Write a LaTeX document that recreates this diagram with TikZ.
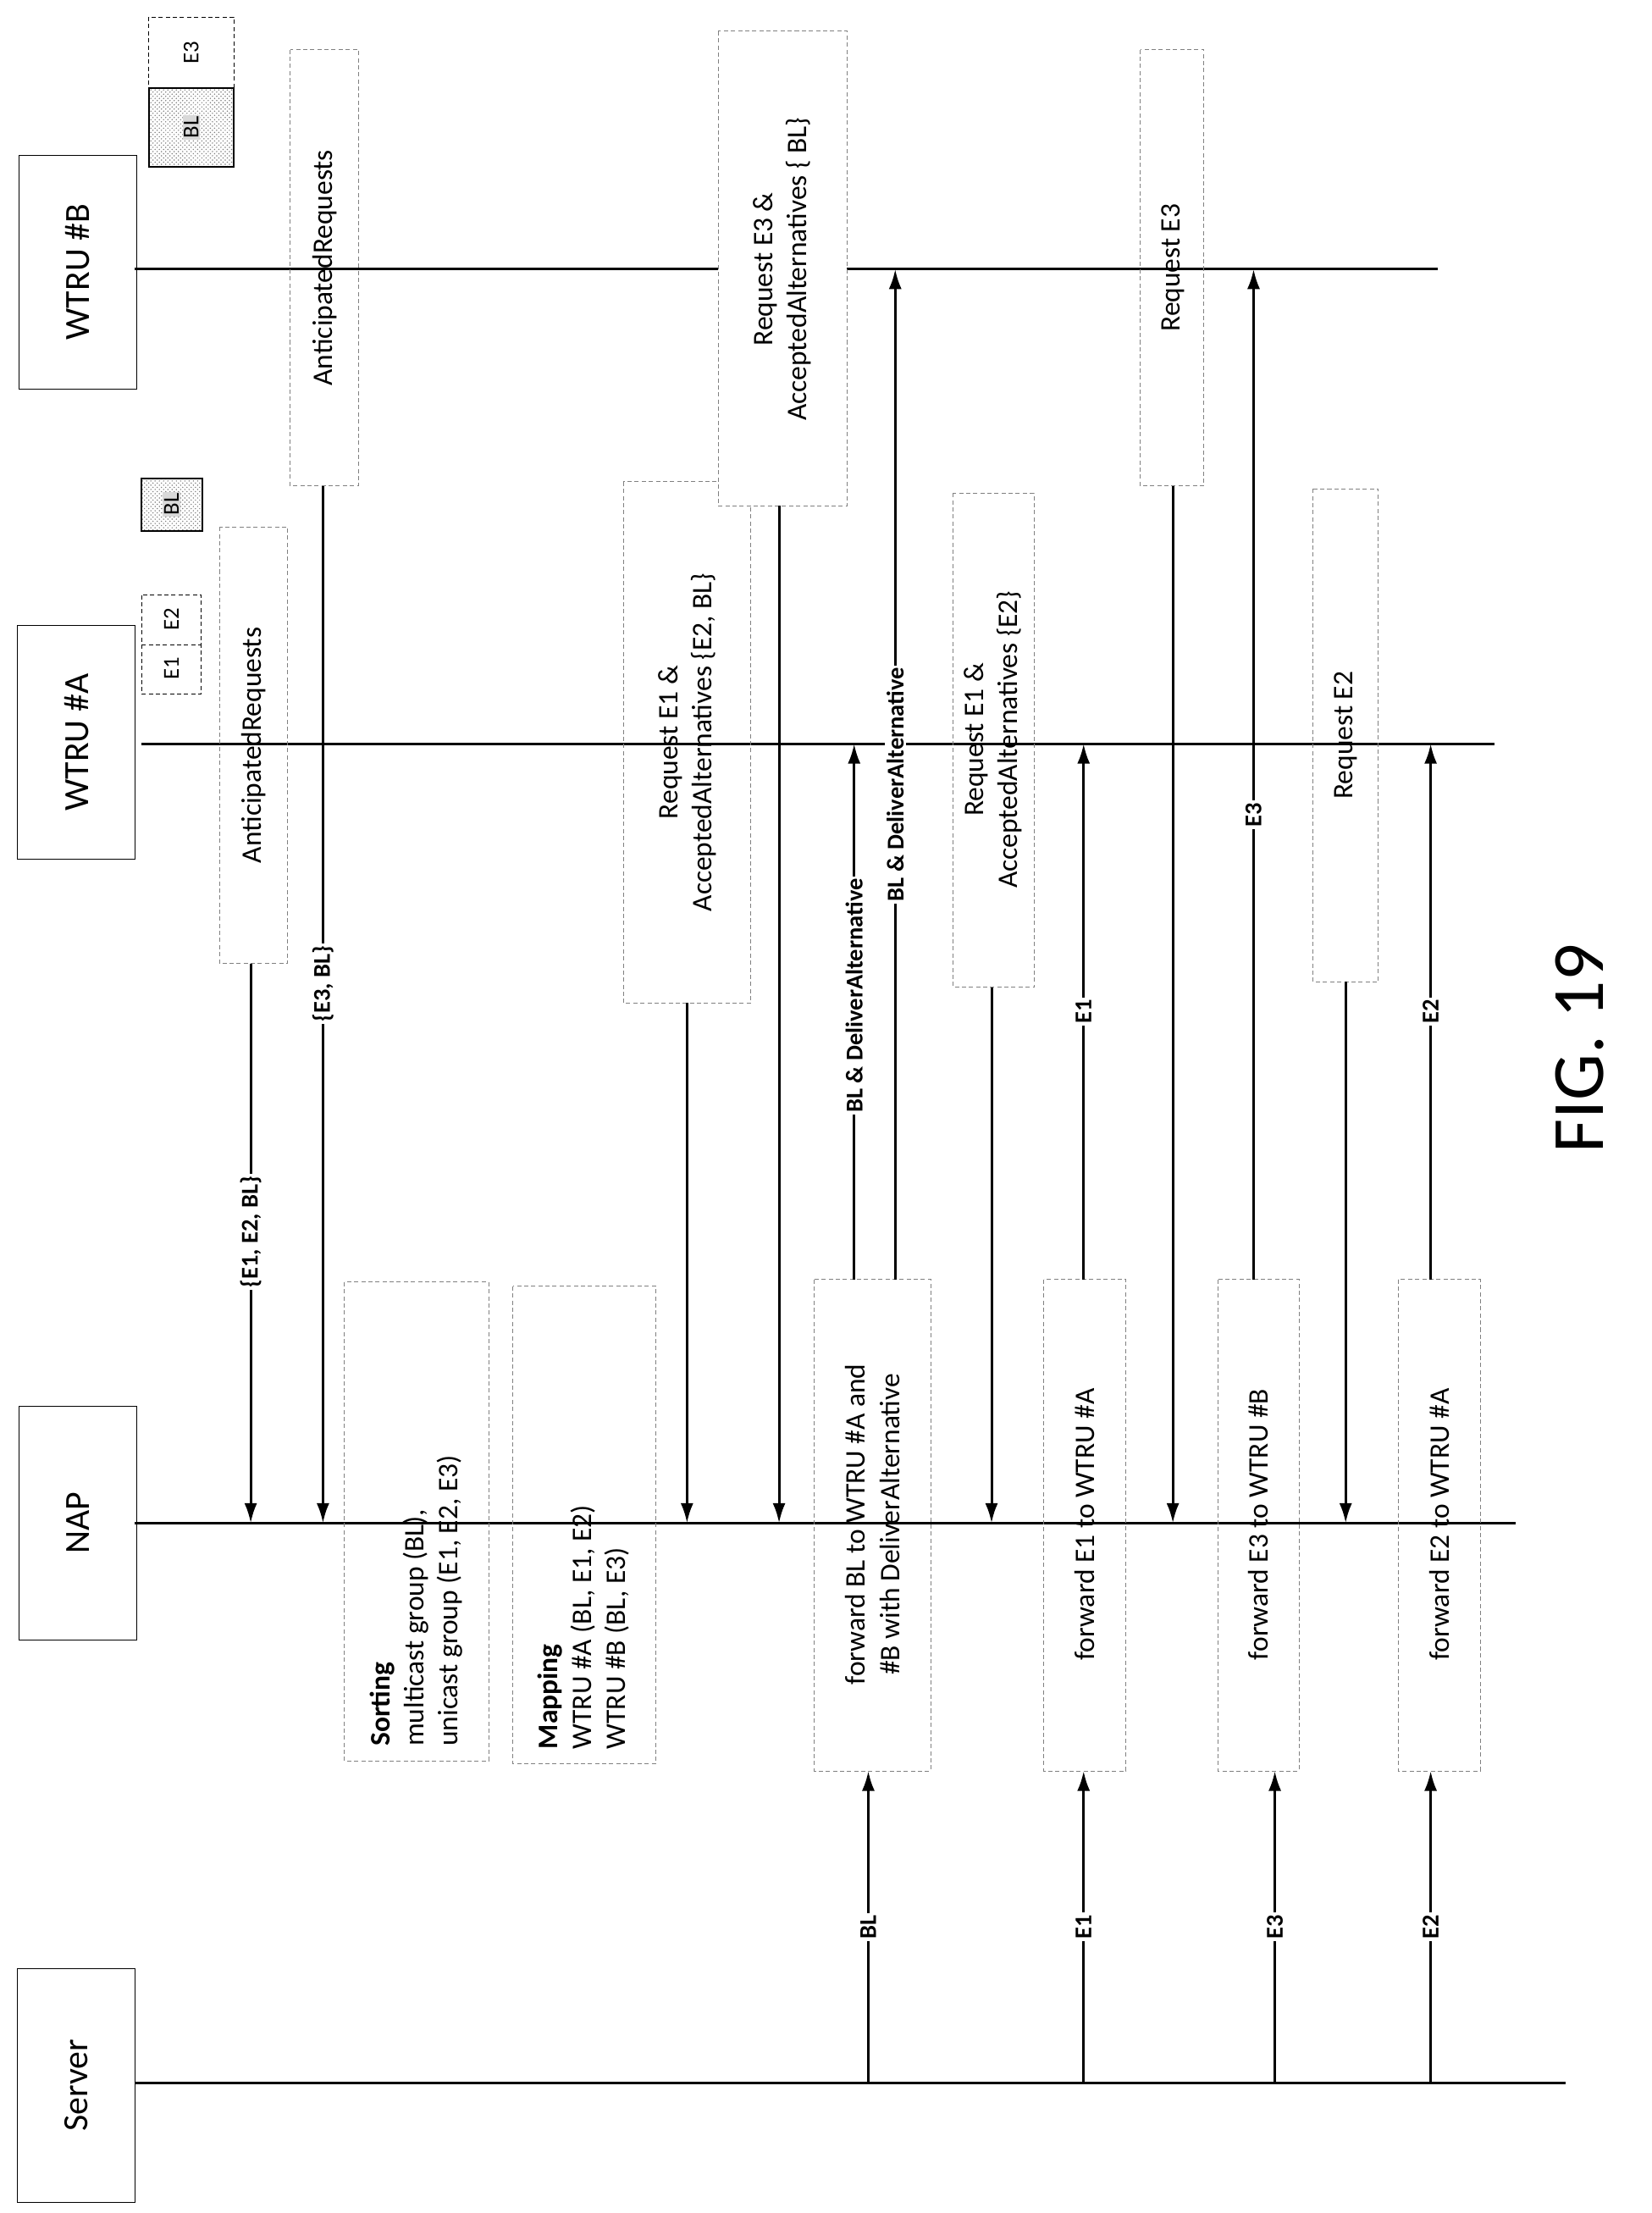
\documentclass[tikz,border=0pt]{standalone}
\usepackage{fontspec}
\setmainfont{Carlito}
\usetikzlibrary{arrows.meta,patterns}
\begin{document}
\begin{tikzpicture}[x=1pt,y=-1pt,
  life/.style={line width=1.8pt},
  actor/.style={draw,line width=0.6pt,minimum width=83pt,minimum height=165pt,inner sep=0pt},
  note/.style={draw=gray,densely dashed,line width=0.6pt,inner sep=0pt},
  msg/.style={line width=1.8pt,-{Latex[length=14pt,width=9pt]}},
  lbl/.style={fill=white,inner sep=1.5pt,font=\fontsize{17}{17}\selectfont\bfseries,rotate=90},
  txt/.style={font=\fontsize{20}{24}\selectfont,rotate=90,align=center}]
\useasboundingbox (0,0) rectangle (1166,1562);
% actors
\node[actor] (wb) at (55,192) {}; \node[txt] at (55,192) {\fontsize{25}{25}\selectfont WTRU \#B};
\node[actor] (wa) at (54,524) {}; \node[txt] at (54,524) {\fontsize{25}{25}\selectfont WTRU \#A};
\node[actor] (nap) at (55,1075) {}; \node[txt] at (55,1075) {\fontsize{25}{25}\selectfont NAP};
\node[actor] (srv) at (54,1472) {}; \node[txt] at (54,1472) {\fontsize{25}{25}\selectfont Server};
% lifelines
\draw[life] (95,190) -- (1015,190);
\draw[life] (100,525) -- (1055,525);
\draw[life] (95,1075) -- (1070,1075);
\draw[life] (95,1470) -- (1105,1470);
% small boxes
\draw[note,black] (105,12) rectangle (165,62); \node[txt,font=\fontsize{16}{16}\selectfont] at (135,37) {E3};
\draw[line width=1.2pt,pattern=crosshatch dots,pattern color=gray] (105,62) rectangle (165,118);
\node[txt,font=\fontsize{16}{16}\selectfont,fill=gray!30,inner sep=1pt] at (135,90) {BL};
\draw[note,black] (100,420) rectangle (142,490); \draw[note,black] (100,455) -- (142,455);
\node[txt,font=\fontsize{16}{16}\selectfont] at (121,472) {E1};
\node[txt,font=\fontsize{16}{16}\selectfont] at (121,437) {E2};
\draw[line width=1.2pt,pattern=crosshatch dots,pattern color=gray] (100,338) rectangle (143,375);
\node[txt,font=\fontsize{16}{16}\selectfont,fill=gray!30,inner sep=1pt] at (121,356) {BL};
% notes
\draw[note] (155,372) rectangle (203,680); \node[txt] at (179,526) {AnticipatedRequests};
\draw[note] (205,35) rectangle (253,343); \node[txt] at (229,189) {AnticipatedRequests};
\draw[note] (440,340) rectangle (530,708); \node[txt] at (485,524) {Request E1 \&\\AcceptedAlternatives \{E2, BL\}};
\draw[note,fill=white] (507,22) rectangle (598,357); \node[txt] at (552,190) {Request E3 \&\\AcceptedAlternatives \{ BL\}};
\draw[note] (673,348) rectangle (730,697); \node[txt] at (701,522) {Request E1 \&\\AcceptedAlternatives \{E2\}};
\draw[note] (805,35) rectangle (850,343); \node[txt] at (828,189) {Request E3};
\draw[note] (927,345) rectangle (973,693); \node[txt] at (950,519) {Request E2};
\draw[note] (243,905) rectangle (345,1243);
\node[txt,align=left,anchor=west] at (294,1236) {\textbf{Sorting}\\multicast group (BL),\\unicast group (E1, E2, E3)};
\draw[note] (362,908) rectangle (463,1245);
\node[txt,align=left,anchor=west] at (412,1238) {\textbf{Mapping}\\WTRU \#A (BL, E1, E2)\\WTRU \#B (BL, E3)};
\draw[note] (575,903) rectangle (657,1250); \node[txt] at (616,1076) {forward BL to WTRU \#A and\\\#B with DeliverAlternative};
\draw[note] (737,903) rectangle (795,1250); \node[txt] at (766,1076) {forward E1 to WTRU \#A};
\draw[note] (860,903) rectangle (917,1250); \node[txt] at (888,1076) {forward E3 to WTRU \#B};
\draw[note] (987,903) rectangle (1045,1250); \node[txt] at (1016,1076) {forward E2 to WTRU \#A};
% messages down
\draw[msg] (177,680) -- node[lbl,pos=0.48] {\{E1, E2, BL\}} (177,1075);
\draw[msg] (228,343) -- node[lbl,pos=0.48] {\{E3, BL\}} (228,1075);
\draw[msg] (485,708) -- (485,1075);
\draw[msg] (550,357) -- (550,1075);
\draw[msg] (700,697) -- (700,1075);
\draw[msg] (828,343) -- (828,1075);
\draw[msg] (950,693) -- (950,1075);
% messages up
\draw[msg] (603,903) -- node[lbl,pos=0.53] {BL \& DeliverAlternative} (603,525);
\draw[msg] (632,903) -- node[lbl,pos=0.49] {BL \& DeliverAlternative} (632,190);
\draw[msg] (765,903) -- node[lbl,pos=0.5] {E1} (765,525);
\draw[msg] (885,903) -- node[lbl,pos=0.46] {E3} (885,190);
\draw[msg] (1010,903) -- node[lbl,pos=0.5] {E2} (1010,525);
\draw[msg] (613,1470) -- node[lbl,pos=0.5] {BL} (613,1250);
\draw[msg] (765,1470) -- node[lbl,pos=0.5] {E1} (765,1250);
\draw[msg] (900,1470) -- node[lbl,pos=0.5] {E3} (900,1250);
\draw[msg] (1010,1470) -- node[lbl,pos=0.5] {E2} (1010,1250);
\node[rotate=90,font=\fontsize{52}{52}\selectfont] (fig) at (1115,740) {FIG. 19};
\end{tikzpicture}
\end{document}
